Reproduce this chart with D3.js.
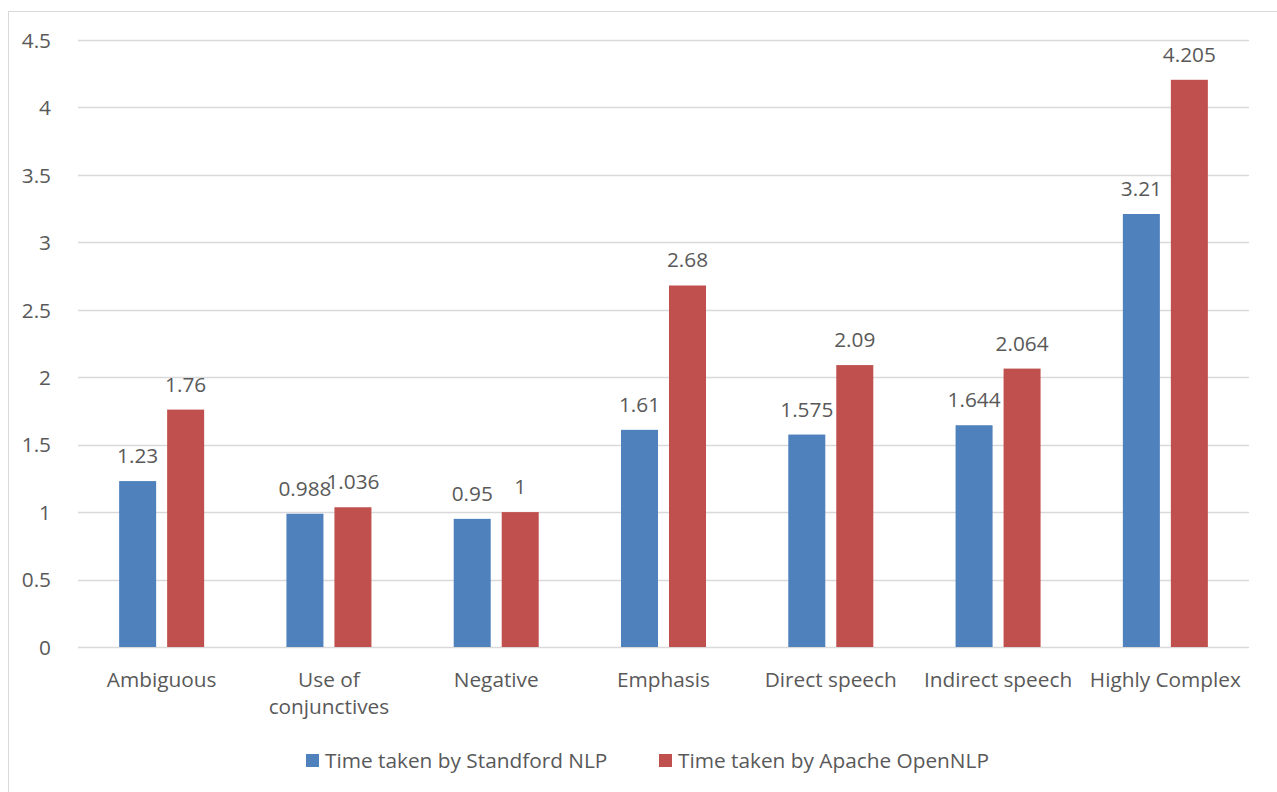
<html>
<head>
	<script src="https://d3js.org/d3.v7.min.js"></script>
	<style>
		body { margin: 0; background: #fff; }
		text { font-family: "Open Sans", "Noto Sans", sans-serif; fill: #595959; font-size: 20.8px; }
	</style>
</head>
<body>
	<svg></svg>
</body>
<script type="text/javascript">
	var categories = ["Ambiguous", "Use of conjunctives", "Negative", "Emphasis", "Direct speech", "Indirect speech", "Highly Complex"];
	var seriesNames = ["Time taken by Standford NLP", "Time taken by Apache OpenNLP"];
	var stanford = [1.23, 0.988, 0.95, 1.61, 1.575, 1.644, 3.21];
	var openNLP = [1.76, 1.036, 1, 2.68, 2.09, 2.064, 4.205];
	var yTicks = [0, 0.5, 1, 1.5, 2, 2.5, 3, 3.5, 4, 4.5];
	var colors = ["#4f81bd", "#c0504d"];

	var width = 1277, height = 792;
	var margin = {"left": 78, "right": 28, "top": 40, "bottom": 145};

	var svg = d3.select("svg")
		.attr("width", width)
		.attr("height", height);

	// chart border
	svg.append("rect")
		.attr("x", 8.5).attr("y", 11.5)
		.attr("width", width + 10).attr("height", height + 10)
		.attr("fill", "none")
		.attr("stroke", "#d9d9d9");

	var x = d3.scaleBand()
		.range([margin.left, width - margin.right])
		.domain(categories);
	// two bars per group, ~37px wide with ~11px gap
	var x1 = d3.scaleBand()
		.domain([0, 1])
		.range([0, x.bandwidth()])
		.paddingInner(0.229)
		.paddingOuter(0.857);
	var y = d3.scaleLinear()
		.range([height - margin.bottom, margin.top])
		.domain([0, 4.5]);

	// gridlines
	svg.append("g")
		.selectAll("line")
		.data(yTicks)
		.enter().append("line")
		.attr("x1", margin.left).attr("x2", width - margin.right)
		.attr("y1", function(d) { return Math.round(y(d)) + 0.5; })
		.attr("y2", function(d) { return Math.round(y(d)) + 0.5; })
		.attr("stroke", "#d9d9d9")
		.attr("stroke-width", 1.3);

	var yAxis = svg.append("g")
		.attr("transform", "translate(" + (margin.left - 24) + ",0)")
		.call(d3.axisLeft(y).tickValues(yTicks).tickSize(0).tickFormat(function(d) { return d; }));
	yAxis.select(".domain").remove();
	yAxis.selectAll("text")
		.attr("font-family", null).attr("font-size", null)
		.attr("dy", "0.35em").attr("fill", "#595959");
	yAxis.attr("font-family", null).attr("font-size", null);

	var table = categories.map(function(c, i) { return {cat: c, vals: [stanford[i], openNLP[i]]}; });

	var groups = svg.append("g").selectAll("g")
		.data(table)
		.enter().append("g")
		.attr("transform", function(d) { return "translate(" + x(d.cat) + ",0)"; });

	groups.selectAll("rect")
		.data(function(d) { return d.vals.map(function(v, k) { return {k: k, v: v}; }); })
		.enter().append("rect")
		.attr("x", function(d) { return x1(d.k); })
		.attr("width", x1.bandwidth())
		.attr("y", function(d) { return y(d.v); })
		.attr("height", function(d) { return y(0) - y(d.v); })
		.attr("fill", function(d) { return colors[d.k]; });

	groups.selectAll("text.val")
		.data(function(d) { return d.vals.map(function(v, k) { return {k: k, v: v}; }); })
		.enter().append("text")
		.attr("class", "val")
		.attr("x", function(d) { return x1(d.k) + x1.bandwidth() / 2; })
		.attr("y", function(d) { return y(d.v) - 18; })
		.attr("text-anchor", "middle")
		.text(function(d) { return d.v; });

	// category labels
	svg.append("g").selectAll("text")
		.data(categories)
		.enter().append("text")
		.attr("x", function(d) { return x(d) + x.bandwidth() / 2; })
		.attr("y", 687)
		.attr("text-anchor", "middle")
		.each(function(d) {
			var t = d3.select(this);
			var lines = d === "Use of conjunctives" ? ["Use of", "conjunctives"] : [d];
			lines.forEach(function(l, i) {
				t.append("tspan").attr("x", x(d) + x.bandwidth() / 2).attr("dy", i ? 27 : 0).text(l);
			});
		});

	// legend
	var legendX = [306, 659];
	var legend = svg.append("g").selectAll("g")
		.data(seriesNames)
		.enter().append("g")
		.attr("transform", function(d, i) { return "translate(" + legendX[i] + ",754)"; });
	legend.append("rect")
		.attr("width", 13).attr("height", 13)
		.attr("fill", function(d, i) { return colors[i]; });
	legend.append("text")
		.attr("x", 19).attr("y", 14)
		.text(function(d) { return d; });
</script>
</html>
